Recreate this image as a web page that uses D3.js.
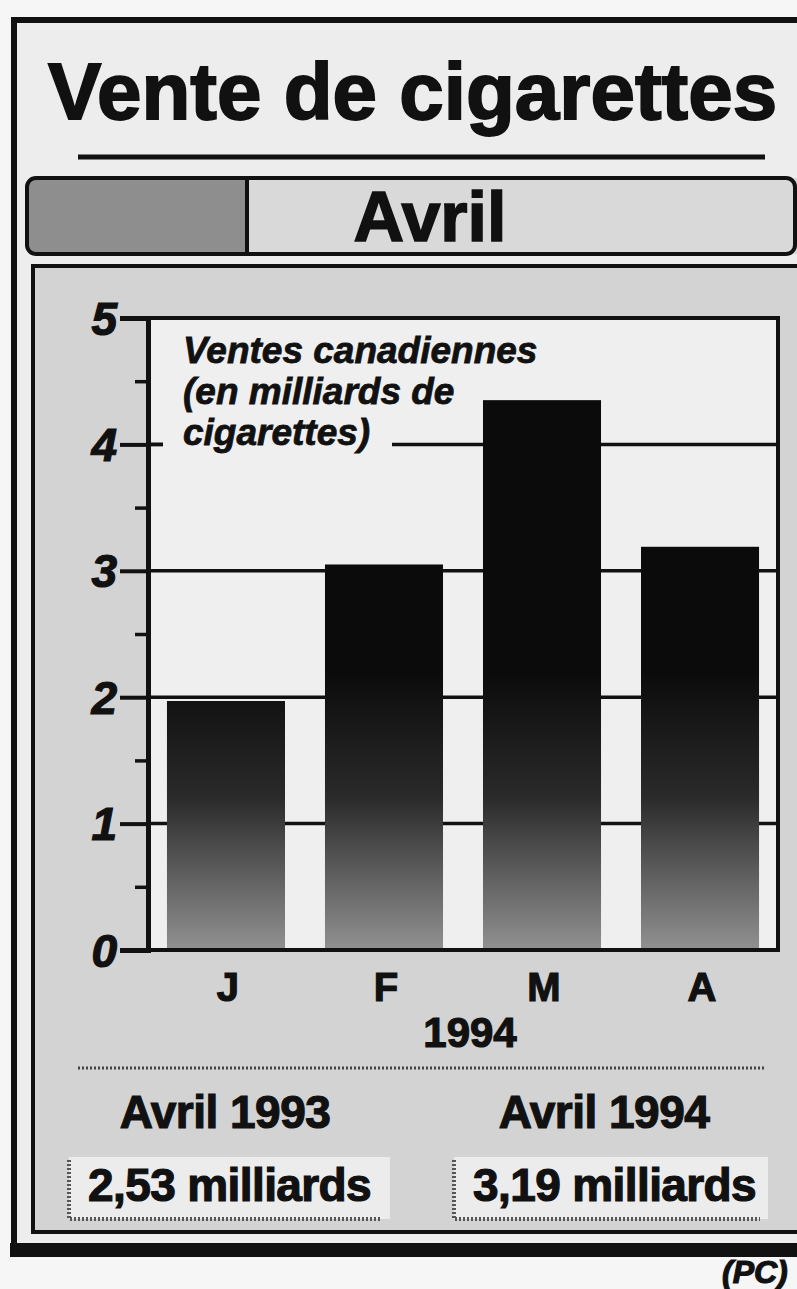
<!DOCTYPE html>
<html>
<head>
<meta charset="utf-8">
<script src="https://cdn.jsdelivr.net/npm/d3@7"></script>
<style>
  body{margin:0;background:#f6f6f6;}
  svg text{font-family:"Liberation Sans",Arial,Helvetica,sans-serif;fill:#111;stroke:#111;stroke-width:1.2px;}
</style>
</head>
<body>
<div id="chart"></div>
<script>
// données
const months = ["J","F","M","A"];
const sales = [1.97, 3.05, 4.35, 3.19];   // milliards de cigarettes
const yTicks = [0,1,2,3,4,5];
const gridTicks = [1,2,3,4];
const yearLabel = "1994";
const compareLabels = ["Avril 1993","Avril 1994"];
const compareValues = ["2,53 milliards","3,19 milliards"];

const W = 797, H = 1289;
const plotLeft = 148, plotRight = 778, plotTop = 318, plotBottom = 950;
const ink = "#111";

const svg = d3.select("#chart").append("svg")
  .attr("width", W).attr("height", H);

const defs = svg.append("defs");
const grad = defs.append("linearGradient")
  .attr("id","barGrad")
  .attr("gradientUnits","userSpaceOnUse")
  .attr("x1",0).attr("x2",0);

const x = d3.scaleBand().domain(months)
  .range([plotLeft, plotRight])
  .paddingInner(0.253).paddingOuter(0.12);
const y = d3.scaleLinear().domain([0,5]).range([plotBottom, plotTop]);

grad.attr("y1", y(2.2)).attr("y2", y(0));
grad.append("stop").attr("offset","0%").attr("stop-color","#0b0b0b");
grad.append("stop").attr("offset","45%").attr("stop-color","#2a2a2a");
grad.append("stop").attr("offset","100%").attr("stop-color","#919191");

// fond + cadre extérieur
svg.append("rect").attr("x",14).attr("y",20).attr("width",W).attr("height",1225)
  .attr("fill","#ededed");
svg.append("path").attr("d","M14,1250 V20 H800")
  .attr("fill","none").attr("stroke",ink).attr("stroke-width",6);
svg.append("rect").attr("x",10).attr("y",1243).attr("width",W).attr("height",14)
  .attr("fill",ink);

// titre
svg.append("text").attr("x",48).attr("y",119)
  .style("font-size","80px").style("font-weight","bold").style("stroke-width","1.8px")
  .text("Vente de cigarettes");
svg.append("line").attr("x1",78).attr("x2",765).attr("y1",157).attr("y2",157)
  .attr("stroke",ink).attr("stroke-width",5);

// bandeau "Avril"
defs.append("clipPath").attr("id","bandClip").append("rect")
  .attr("x",27).attr("y",178).attr("width",780).attr("height",76).attr("rx",9);
svg.append("rect").attr("x",27).attr("y",178).attr("width",780).attr("height",76)
  .attr("rx",9).attr("fill","#d9d9d9");
svg.append("rect").attr("x",27).attr("y",178).attr("width",220).attr("height",76)
  .attr("clip-path","url(#bandClip)").attr("fill","#8e8e8e");
svg.append("line").attr("x1",247).attr("x2",247).attr("y1",178).attr("y2",254)
  .attr("stroke",ink).attr("stroke-width",4);
svg.append("rect").attr("x",27).attr("y",178).attr("width",768).attr("height",76)
  .attr("rx",9).attr("fill","none").attr("stroke",ink).attr("stroke-width",4);
svg.append("text").attr("x",430).attr("y",241).attr("text-anchor","middle")
  .style("font-size","70px").style("font-weight","bold").style("stroke-width","1.6px")
  .text("Avril");

// panneau du graphique
svg.append("rect").attr("x",33).attr("y",266).attr("width",800).attr("height",966)
  .attr("fill","#d3d3d3").attr("stroke",ink).attr("stroke-width",4);

// zone de tracé
svg.append("rect").attr("x",plotLeft).attr("y",plotTop)
  .attr("width",plotRight-plotLeft).attr("height",plotBottom-plotTop)
  .attr("fill","#efefef");

svg.append("g").selectAll("line.grid")
  .data(gridTicks).enter().append("line")
  .attr("class","grid")
  .attr("x1",plotLeft).attr("x2",plotRight)
  .attr("y1",d=>y(d)).attr("y2",d=>y(d))
  .attr("stroke",ink).attr("stroke-width",3.5);

// étiquette de l'axe (cache la grille derrière)
svg.append("rect").attr("x",163).attr("y",326).attr("width",229).attr("height",135)
  .attr("fill","#efefef");
const axisLabel = svg.append("text")
  .style("font-size","37px").style("font-weight","bold").style("font-style","italic")
  .style("stroke-width","0.8px");
["Ventes canadiennes","(en milliards de","cigarettes)"].forEach((t,i)=>{
  axisLabel.append("tspan").attr("x",183).attr("y",363 + i*41).text(t);
});

// barres
svg.append("g").selectAll(".bar")
  .data(sales).enter().append("rect")
  .attr("class","bar")
  .attr("x",(d,i)=>x(months[i]))
  .attr("y",d=>y(d))
  .attr("width",x.bandwidth())
  .attr("height",d=>y(0)-y(d))
  .attr("fill","url(#barGrad)");

// bordures
svg.append("path")
  .attr("d",`M${plotLeft-28},${plotTop} H${plotRight} V${plotBottom} H${plotLeft-28}`)
  .attr("fill","none").attr("stroke",ink).attr("stroke-width",4);

const yAxis = svg.append("g").attr("transform",`translate(${plotLeft},0)`)
  .call(d3.axisLeft(y).tickValues(yTicks).tickSize(28).tickFormat(""));
yAxis.select(".domain").attr("stroke",ink).attr("stroke-width",5);
yAxis.selectAll(".tick line").attr("stroke",ink).attr("stroke-width",4);

const minorAxis = svg.append("g").attr("transform",`translate(${plotLeft},0)`)
  .call(d3.axisLeft(y).tickValues(d3.range(0.5,5,1)).tickSize(13).tickFormat(""));
minorAxis.select(".domain").remove();
minorAxis.selectAll(".tick line").attr("stroke",ink).attr("stroke-width",3.5);

svg.append("line").attr("x1",plotLeft).attr("x2",plotLeft+15)
  .attr("y1",y(4)).attr("y2",y(4)).attr("stroke",ink).attr("stroke-width",3.5);

svg.append("g").selectAll(".ylab")
  .data(yTicks).enter().append("text")
  .attr("class","ylab")
  .attr("x",117).attr("y",d=>y(d)).attr("dy","0.36em")
  .attr("text-anchor","end")
  .style("font-size","46px").style("font-weight","bold").style("font-style","italic")
  .text(d=>d);

// axe des x
svg.append("g").selectAll(".xlab")
  .data(months).enter().append("text")
  .attr("class","xlab")
  .attr("x",d=>x(d)+x.bandwidth()/2+2).attr("y",1001)
  .attr("text-anchor","middle")
  .style("font-size","40px").style("font-weight","bold")
  .text(d=>d);
svg.append("text").attr("x",470).attr("y",1047).attr("text-anchor","middle")
  .style("font-size","42px").style("font-weight","bold").text(yearLabel);

svg.append("line").attr("x1",78).attr("x2",765).attr("y1",1068).attr("y2",1068)
  .attr("stroke","#444").attr("stroke-width",3).attr("stroke-dasharray","2,2");

// comparaison avril
const compX = [225, 604];
const boxX = [69, 454], boxW = [321, 314];
compareLabels.forEach((t,i)=>{
  svg.append("text").attr("x",compX[i]).attr("y",1128).attr("text-anchor","middle")
    .style("font-size","46px").style("font-weight","bold").style("letter-spacing","-0.5px")
    .text(t);
  svg.append("rect").attr("x",boxX[i]).attr("y",1157).attr("width",boxW[i]).attr("height",62)
    .attr("fill","#ececec");
  svg.append("path")
    .attr("d",`M${boxX[i]},1160 V1219 H${boxX[i]+boxW[i]-8}`)
    .attr("fill","none").attr("stroke","#555").attr("stroke-width",4)
    .attr("stroke-dasharray","2,2");
  svg.append("text").attr("x",boxX[i]+19).attr("y",1201)
    .style("font-size","46px").style("font-weight","bold").style("letter-spacing","-0.6px")
    .text(compareValues[i]);
});

// source
svg.append("text").attr("x",722).attr("y",1283)
  .style("font-size","32px").style("font-weight","bold").style("font-style","italic")
  .text("(PC)");
</script>
</body>
</html>
